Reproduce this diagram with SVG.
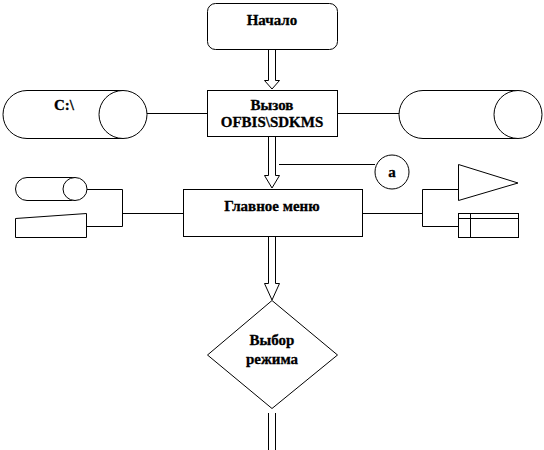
<svg xmlns="http://www.w3.org/2000/svg" width="544" height="450" viewBox="0 0 544 450">
<style>
.s{fill:#fff;stroke:#000;stroke-width:1}
.l{fill:none;stroke:#000;stroke-width:1}
text{font-family:"Liberation Serif","Times New Roman",serif;font-weight:bold;font-size:15px;text-anchor:middle;fill:#000;stroke:#000;stroke-width:0.3}
</style>
<rect width="544" height="450" fill="#fff"/>
<g id="connectors">
<path class="s" d="M268.5,50 V80.5 H264.5 L272,89 L279.5,80.5 H275.5 V50"/>
<path class="s" d="M268.5,137 V175.5 H264.5 L272,188 L279.5,175.5 H275.5 V137"/>
<path class="s" d="M268.5,237 V283.5 H264.5 L272,300 L279.5,283.5 H275.5 V237"/>
<path class="l" d="M268.5,413 V450 M275.5,413 V450"/>
<path class="l" d="M147,113.5 H207 M337,113.5 H399"/>
<path class="l" d="M279,164.5 H375"/>
<path class="l" d="M183,213.5 H122.5 M87,189.5 H122.5 V226.5 H87"/>
<path class="l" d="M363,213.5 H422.5 M458,189.5 H422.5 V226.5 H458"/>
</g>
<g id="start">
<rect class="s" x="207.5" y="3.5" width="130" height="46" rx="8"/>
<text x="272" y="25">Начало</text>
</g>
<g id="call">
<rect class="s" x="207.5" y="90.5" width="130" height="46"/>
<text x="272" y="110">Вызов</text>
<text x="272" y="127">OFBIS\SDKMS</text>
</g>
<g id="disk-c">
<path class="s" d="M123,90.5 H27 A24,24 0 0 0 27,138.5 H123"/>
<ellipse class="s" cx="123" cy="114.5" rx="24" ry="24"/>
<text x="64" y="110">C:\</text>
</g>
<g id="disk-right">
<path class="s" d="M518,90.5 H423 A24,24 0 0 0 423,138.5 H518"/>
<ellipse class="s" cx="518" cy="114.5" rx="24" ry="24"/>
</g>
<g id="a">
<circle class="s" cx="392" cy="172" r="17"/>
<text x="392" y="177">a</text>
</g>
<g id="main-menu">
<rect class="s" x="183.5" y="189.5" width="179" height="47"/>
<text x="272" y="211">Главное меню</text>
</g>
<g id="small-disk">
<path class="s" d="M75,177.5 H27 A11.5,11.5 0 0 0 27,200.5 H75"/>
<ellipse class="s" cx="75" cy="189" rx="12" ry="11.5"/>
</g>
<g id="manual-input">
<path class="s" d="M15.5,218.5 L86.5,213.5 V237.5 H15.5 Z"/>
</g>
<g id="display">
<path class="s" d="M458.5,164.5 L518,183 L458.5,200.5 Z"/>
</g>
<g id="storage">
<rect class="s" x="458.5" y="213.5" width="60" height="24"/>
<path class="l" d="M458.5,218.5 H518.5 M470.5,213.5 V237.5"/>
</g>
<g id="mode">
<path class="s" d="M272,300.5 L337.5,355 L272,408.5 L207.5,355 Z"/>
<text x="272" y="345">Выбор</text>
<text x="272" y="364">режима</text>
</g>
</svg>
